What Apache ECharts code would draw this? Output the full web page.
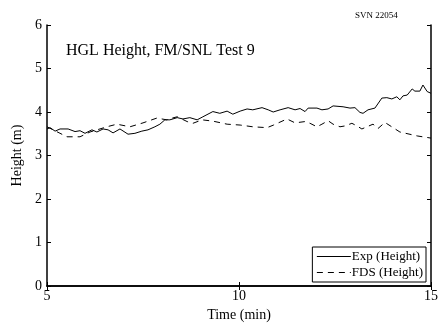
<!DOCTYPE html>
<html>
<head>
<meta charset="utf-8">
<script src="https://cdn.jsdelivr.net/npm/echarts@6/dist/echarts.min.js"></script>
<style>html,body{margin:0;padding:0;background:#fff}#c{width:445px;height:331px}</style>
</head>
<body>
<div id="c"></div>
<script>
const expTime = [5.0,5.08,5.21,5.34,5.55,5.73,5.86,5.99,6.17,6.3,6.46,6.59,6.72,6.9,7.11,7.29,7.47,7.63,7.81,7.94,8.07,8.2,8.39,8.54,8.72,8.91,9.06,9.32,9.5,9.69,9.84,10.03,10.21,10.36,10.6,10.76,10.89,11.07,11.28,11.46,11.59,11.72,11.8,12.03,12.16,12.32,12.45,12.71,12.89,13.02,13.15,13.23,13.36,13.54,13.72,13.85,13.98,14.11,14.19,14.27,14.38,14.51,14.58,14.71,14.79,14.9,15.0];
const expHeight = [3.61,3.64,3.56,3.61,3.61,3.55,3.57,3.51,3.59,3.54,3.61,3.59,3.52,3.61,3.49,3.51,3.56,3.59,3.66,3.72,3.82,3.82,3.87,3.84,3.87,3.82,3.89,4.01,3.97,4.02,3.95,4.02,4.07,4.05,4.1,4.05,4.0,4.05,4.1,4.05,4.08,4.01,4.09,4.09,4.05,4.07,4.14,4.12,4.09,4.1,3.99,3.97,4.05,4.09,4.32,4.33,4.3,4.35,4.28,4.37,4.39,4.53,4.48,4.48,4.62,4.47,4.43];
const fdsTime = [5.0,5.25,5.52,5.86,6.12,6.56,6.82,7.16,7.5,7.86,8.12,8.26,8.39,8.65,8.8,9.04,9.32,9.69,10.03,10.36,10.73,10.9,11.25,11.46,11.72,11.85,12.03,12.16,12.32,12.45,12.63,12.76,12.94,13.07,13.2,13.33,13.49,13.62,13.8,14.19,14.64,15.0];
const fdsHeight = [3.66,3.55,3.43,3.43,3.54,3.66,3.72,3.66,3.75,3.86,3.82,3.86,3.89,3.78,3.74,3.82,3.79,3.72,3.70,3.66,3.64,3.70,3.84,3.75,3.78,3.74,3.66,3.72,3.8,3.72,3.66,3.68,3.74,3.68,3.61,3.66,3.72,3.62,3.76,3.54,3.45,3.40];
const xTicks = [5,10,15];
const yTicks = [0,1,2,3,4,5,6];
const titleText = 'HGL Height, FM/SNL Test 9';
const svnText = 'SVN 22054';

const font = 'Liberation Serif';
const chart = echarts.init(document.getElementById('c'), null, {renderer:'canvas'});
const axisLine = {show:true, lineStyle:{color:'#000', width:1.5}};
const tick = {show:true, inside:true, length:4, lineStyle:{color:'#000', width:1}};
chart.setOption({
  animation:false,
  backgroundColor:'#fff',
  textStyle:{fontFamily:font, color:'#000'},
  grid:{left:47, right:14, top:25, bottom:45, containLabel:false},
  graphic:[
    {type:'text', left:66, top:43, style:{text:titleText, font:'16px "Liberation Serif"', fill:'#000'}},
    {type:'text', left:355, top:11, style:{text:svnText, font:'9px "Liberation Serif"', fill:'#000'}}
  ],
  legend:{
    right:19, bottom:49, orient:'vertical', itemWidth:34, itemHeight:10, itemGap:3,
    padding:[3,3,3,4], borderColor:'#000', borderWidth:1, backgroundColor:'#fff', borderRadius:0,
    itemStyle:{opacity:0},
    lineStyle:{width:1},
    textStyle:{fontFamily:font, fontSize:13, color:'#000', padding:[0,0,0,-4]},
    data:['Exp (Height)','FDS (Height)']
  },
  xAxis:[
    {type:'value', min:5, max:15, interval:5, position:'bottom',
     axisLine:axisLine, axisTick:tick, splitLine:{show:false},
     axisLabel:{fontFamily:font, fontSize:14, color:'#000', margin:3},
     name:'Time (min)', nameLocation:'middle', nameGap:21,
     nameTextStyle:{fontFamily:font, fontSize:14, color:'#000'}},
    {type:'value', min:5, max:15, interval:5, position:'top',
     axisLine:axisLine, axisTick:tick, splitLine:{show:false}, axisLabel:{show:false}}
  ],
  yAxis:[
    {type:'value', min:0, max:6, interval:1, position:'left',
     axisLine:axisLine, axisTick:tick, splitLine:{show:false},
     axisLabel:{fontFamily:font, fontSize:14, color:'#000', margin:5},
     name:'Height (m)', nameLocation:'middle', nameGap:19,
     nameTextStyle:{fontFamily:font, fontSize:14, color:'#000'}},
    {type:'value', min:0, max:6, interval:1, position:'right',
     axisLine:axisLine, axisTick:tick, splitLine:{show:false}, axisLabel:{show:false}}
  ],
  series:[
    {name:'Exp (Height)', type:'line', xAxisIndex:0, yAxisIndex:0, showSymbol:false, symbol:'none',
     data:expTime.map((t,i)=>[t,expHeight[i]]), lineStyle:{color:'#000', width:1}, itemStyle:{color:'#000'}},
    {name:'FDS (Height)', type:'line', xAxisIndex:0, yAxisIndex:0, showSymbol:false, symbol:'none',
     data:fdsTime.map((t,i)=>[t,fdsHeight[i]]), lineStyle:{color:'#000', width:1, type:[6,5]}, itemStyle:{color:'#000'}}
  ]
});
</script>
</body>
</html>
